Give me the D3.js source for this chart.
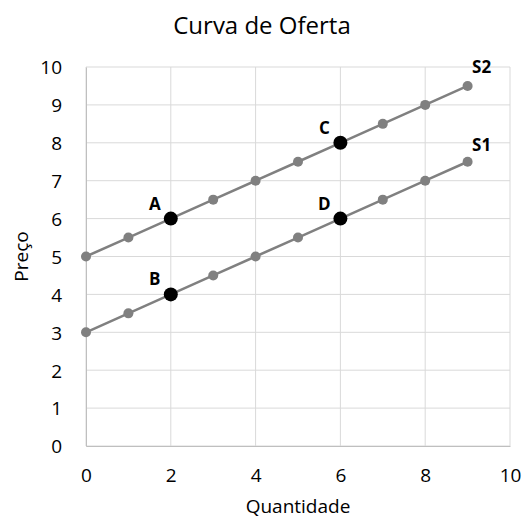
<!DOCTYPE html>
<html>
<head>
<meta charset="utf-8">
<script src="https://cdn.jsdelivr.net/npm/d3@7"></script>
<style>
  body { margin: 0; background: #fff; }
  text { font-family: "Open Sans", "Liberation Sans", sans-serif; fill: #000; }
</style>
</head>
<body>
<svg id="chart" width="523" height="519"></svg>
<script>
const width = 523,
  height = 519;
const margin = { top: 67, right: 13, bottom: 73, left: 86 };

// series data (quantity, price)
const quantity = [0, 1, 2, 3, 4, 5, 6, 7, 8, 9];
const s1Price = [3, 3.5, 4, 4.5, 5, 5.5, 6, 6.5, 7, 7.5];
const s2Price = [5, 5.5, 6, 6.5, 7, 7.5, 8, 8.5, 9, 9.5];

// highlighted points
const pointNames = ["A", "B", "C", "D"];
const pointQty = [2, 2, 6, 6];
const pointPrice = [6, 4, 8, 6];

const xTicks = [0, 2, 4, 6, 8, 10];
const yTicks = [0, 1, 2, 3, 4, 5, 6, 7, 8, 9, 10];

const svg = d3.select("#chart");
const x = d3.scaleLinear().domain([0, 10]).range([margin.left, width - margin.right]);
const y = d3.scaleLinear().domain([0, 10]).range([height - margin.bottom, margin.top]);

// gridlines
svg.append("g")
  .selectAll("line")
  .data(yTicks)
  .join("line")
  .attr("x1", x(0)).attr("x2", x(10))
  .attr("y1", d => y(d)).attr("y2", d => y(d))
  .attr("stroke", "#d9d9d9").attr("stroke-width", 1);
svg.append("g")
  .selectAll("line")
  .data(xTicks)
  .join("line")
  .attr("x1", d => x(d)).attr("x2", d => x(d))
  .attr("y1", y(0)).attr("y2", y(10))
  .attr("stroke", "#d9d9d9").attr("stroke-width", 1);

// axes
const xAxis = svg.append("g")
  .attr("transform", `translate(0,${y(0)})`)
  .call(d3.axisBottom(x).tickValues(xTicks).tickSize(0).tickPadding(23));
const yAxis = svg.append("g")
  .attr("transform", `translate(${x(0)},0)`)
  .call(d3.axisLeft(y).tickValues(yTicks).tickSize(0).tickPadding(24));
[xAxis, yAxis].forEach(a => {
  a.select(".domain").attr("stroke", "#bfbfbf");
  a.selectAll("text")
    .style("font-size", "19px")
    .style("font-family", "'Open Sans', sans-serif")
    .attr("fill", "#000");
});
yAxis.selectAll("text").attr("dy", "0.36em");

// lines
const line = d3.line().x((d, i) => x(quantity[i])).y(d => y(d));
[s1Price, s2Price].forEach(series => {
  svg.append("path")
    .datum(series)
    .attr("d", line)
    .attr("fill", "none")
    .attr("stroke", "#808080")
    .attr("stroke-width", 2.5);
  svg.append("g")
    .selectAll("circle")
    .data(series)
    .join("circle")
    .attr("cx", (d, i) => x(quantity[i]))
    .attr("cy", d => y(d))
    .attr("r", 5)
    .attr("fill", "#808080");
});

// highlighted points
svg.append("g")
  .selectAll("circle")
  .data(pointNames)
  .join("circle")
  .attr("cx", (d, i) => x(pointQty[i]))
  .attr("cy", (d, i) => y(pointPrice[i]))
  .attr("r", 7)
  .attr("fill", "#000");
svg.append("g")
  .selectAll("text")
  .data(pointNames)
  .join("text")
  .attr("x", (d, i) => x(pointQty[i]) - 16)
  .attr("y", (d, i) => y(pointPrice[i]) - 9)
  .attr("text-anchor", "middle")
  .style("font-size", "17px")
  .style("font-weight", "bold")
  .text(d => d);

// series labels
svg.append("text")
  .attr("x", x(9) + 14).attr("y", y(9.5) - 13)
  .attr("text-anchor", "middle")
  .style("font-size", "17px").style("font-weight", "bold")
  .text("S2");
svg.append("text")
  .attr("x", x(9) + 14).attr("y", y(7.5) - 11)
  .attr("text-anchor", "middle")
  .style("font-size", "17px").style("font-weight", "bold")
  .text("S1");

// titles
svg.append("text")
  .attr("x", 262).attr("y", 34)
  .attr("text-anchor", "middle")
  .style("font-size", "24px")
  .text("Curva de Oferta");
svg.append("text")
  .attr("x", x(5)).attr("y", 513)
  .attr("text-anchor", "middle")
  .style("font-size", "19px")
  .text("Quantidade");
svg.append("text")
  .attr("transform", `translate(28,${y(5)}) rotate(-90)`)
  .attr("text-anchor", "middle")
  .style("font-size", "19px")
  .text("Preço");
</script>
</body>
</html>
